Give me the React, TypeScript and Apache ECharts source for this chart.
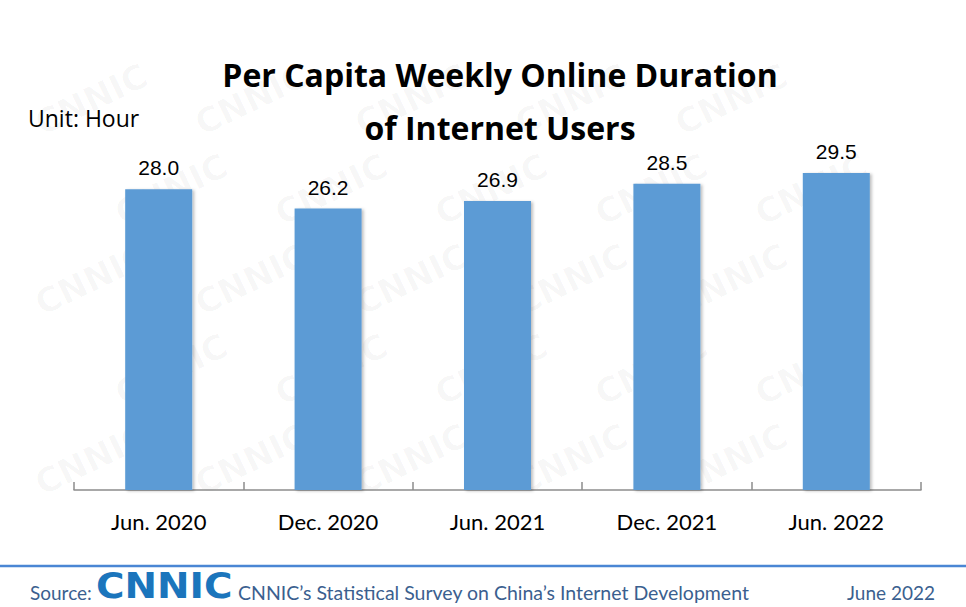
import React, { useEffect, useRef } from "react";
import * as echarts from "echarts";

const categories: string[] = ["Jun. 2020", "Dec. 2020", "Jun. 2021", "Dec. 2021", "Jun. 2022"];
const hours: number[] = [28.0, 26.2, 26.9, 28.5, 29.5];
const titleLines: string[] = ["Per Capita Weekly Online Duration", "of Internet Users"];
const unitLabel = "Unit: Hour";
const sourceLabel = "Source:";
const sourceText = "CNNIC\u2019s Statistical Survey on China\u2019s Internet Development";
const dateLabel = "June 2022";
const logoText = "CNNIC";

export default function App() {
  const ref = useRef<HTMLDivElement>(null);
  useEffect(() => {
    if (!ref.current) return;
    const chart = echarts.init(ref.current, undefined, { renderer: "svg" });

    const watermarks: any[] = [];
    for (let row = 0; row < 5; row++) {
      for (let col = 0; col < 5; col++) {
        watermarks.push({
          type: "text",
          x: col * 160 + (row % 2) * 80 + 30,
          y: row * 90 + 110,
          rotation: 0.45,
          z: -10,
          silent: true,
          style: {
            text: logoText,
            font: "bold 34px 'DejaVu Sans'",
            fill: "rgba(0,0,0,0.03)",
          },
        });
      }
    }

    chart.setOption({
      animation: false,
      backgroundColor: "#ffffff",
      title: {
        text: titleLines.join("\n"),
        left: 495,
        top: 43,
        textAlign: "center",
        textStyle: {
          fontFamily: "Open Sans",
          fontWeight: "bold",
          fontSize: 32,
          lineHeight: 53,
          color: "#000",
        },
      },
      grid: { left: 74, right: 45, top: 114, bottom: 117, containLabel: false },
      xAxis: {
        type: "category",
        data: categories,
        axisLine: { show: true, lineStyle: { color: "#8c8c8c", width: 1.5 } },
        axisTick: { show: true, inside: true, length: 8, lineStyle: { color: "#8c8c8c", width: 1.5 } },
        axisLabel: { fontFamily: "Lato", fontSize: 22, color: "#000", margin: 20 },
      },
      yAxis: {
        type: "value",
        min: 0,
        max: 35,
        show: false,
        splitLine: { show: false },
      },
      series: [
        {
          type: "bar",
          data: hours,
          barWidth: 67,
          itemStyle: {
            color: "#5b9bd5",
            shadowColor: "rgba(0,0,0,0.25)",
            shadowBlur: 3,
            shadowOffsetX: 2,
            shadowOffsetY: 1,
          },
          label: {
            show: true,
            position: "top",
            distance: 11,
            formatter: (p: any) => Number(p.value).toFixed(1),
            fontFamily: "Liberation Sans",
            fontSize: 21,
            color: "#000",
          },
        },
      ],
      graphic: [
        ...watermarks,
        {
          type: "text",
          x: 28,
          y: 118,
          style: {
            text: unitLabel,
            font: "23px 'Open Sans'",
            fill: "#000",
            verticalAlign: "middle",
          },
        },
        {
          type: "line",
          shape: { x1: 0, y1: 566, x2: 966, y2: 566 },
          style: { stroke: "#4a86d4", lineWidth: 2.5 },
        },
        {
          type: "text",
          x: 30,
          y: 592,
          style: {
            text: sourceLabel,
            font: "19px Lato",
            fill: "#3b5f8f",
            verticalAlign: "middle",
          },
        },
        {
          type: "text",
          x: 96,
          y: 586,
          scaleX: 1.08,
          style: {
            text: logoText,
            font: "bold 36px 'DejaVu Sans'",
            fill: "#1b75bc",
            verticalAlign: "middle",
          },
        },
        {
          type: "text",
          x: 238,
          y: 592,
          style: {
            text: sourceText,
            font: "19.5px Lato",
            fill: "#3b5f8f",
            verticalAlign: "middle",
          },
        },
        {
          type: "text",
          x: 935,
          y: 592,
          style: {
            text: dateLabel,
            font: "19px Lato",
            fill: "#3b5f8f",
            verticalAlign: "middle",
            align: "right",
          },
        },
      ],
    });
    return () => chart.dispose();
  }, []);

  return (
    <div
      ref={ref}
      style={{ position: "absolute", left: 0, top: 0, width: 966, height: 607 }}
    />
  );
}
